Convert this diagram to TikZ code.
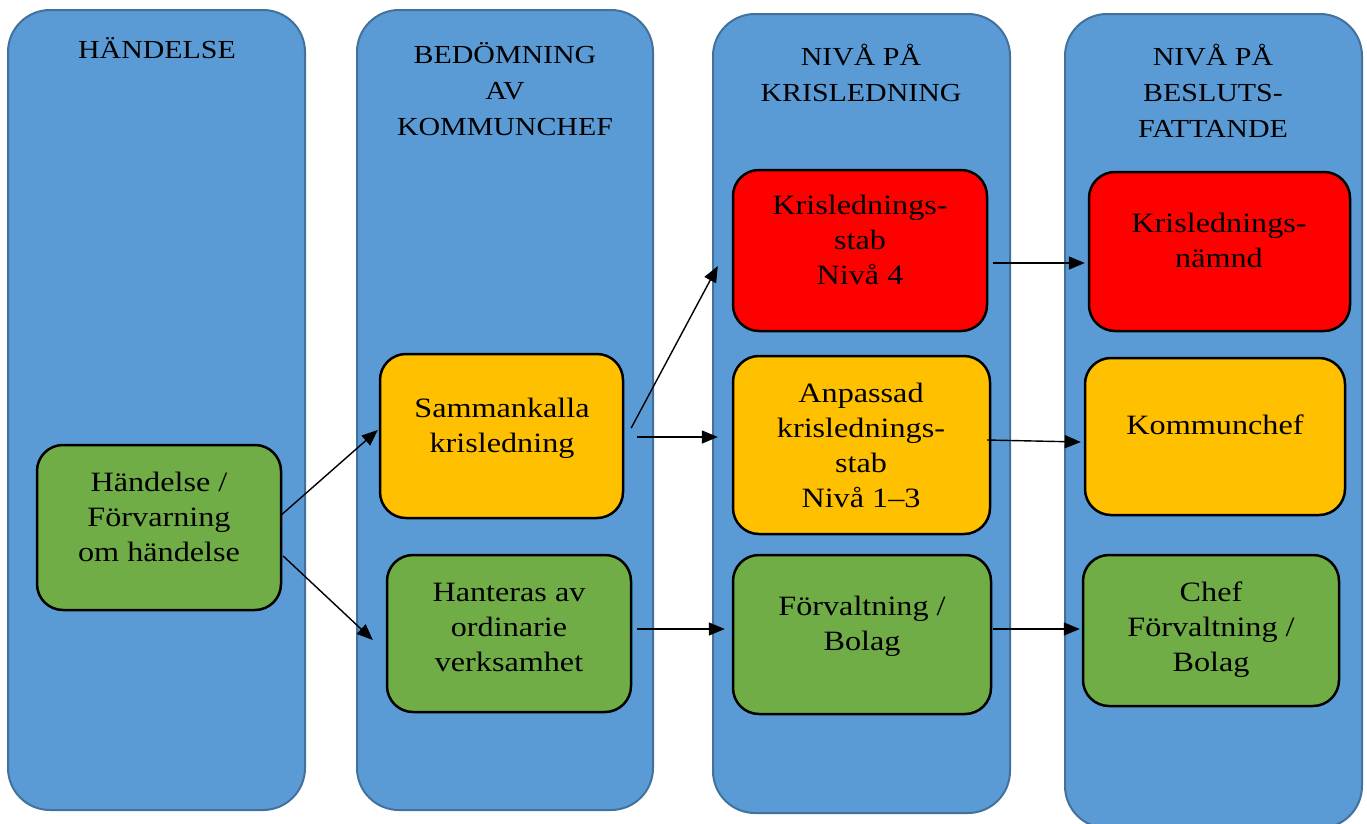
\documentclass[tikz,border=0pt]{standalone}
\usepackage{fontspec}
\setmainfont{Liberation Serif}[FakeStretch=1.15]
\usetikzlibrary{arrows.meta}
\definecolor{colblue}{HTML}{5B9BD5}
\definecolor{colborder}{HTML}{41719C}
\definecolor{boxred}{HTML}{FF0000}
\definecolor{boxorange}{HTML}{FFC000}
\definecolor{boxgreen}{HTML}{70AD47}
\tikzset{
  column/.style={draw=colborder, line width=2pt, fill=colblue, rounded corners=42pt},
  headtext/.style={align=center, font=\fontsize{26}{36}\selectfont, inner sep=0pt},
  item/.style={draw=black, line width=2.5pt, rounded corners=26pt, align=center,
    font=\fontsize{28}{35}\selectfont, inner sep=0pt},
  itemtext/.style={align=center, font=\fontsize{28}{35}\selectfont, inner sep=0pt},
  arr/.style={-{Triangle[length=16pt,width=13pt]}, line width=1.4pt, black},
}
\newcommand{\itembox}[6]{% name, x1, y1, x2, y2, fill
  \path[item, fill=#6] (#2,#3) rectangle (#4,#5);
  \coordinate (#1-c) at ({(#2+#4)/2},{(#3+#5)/2});
  \node[inner sep=0pt, minimum width={#4-#2}, minimum height={#5-#3}] (#1) at (#1-c) {};
}
\begin{document}
\begin{tikzpicture}[x=1pt,y=-1pt]
\useasboundingbox (0,0) rectangle (1367,823);
% columns
\path[column] (8,10) rectangle (305,810);
\path[column] (357,10) rectangle (653,810);
\path[column] (713,14) rectangle (1010,813);
\path[column] (1065,14) rectangle (1362,828);
% headers
\node[headtext] (h1) at (157,48) {HÄNDELSE};
\node[headtext] (h2) at (505,89) {BEDÖMNING\\AV\\KOMMUNCHEF};
\node[headtext] (h3) at (861,73) {NIVÅ PÅ\\KRISLEDNING};
\node[headtext] (h4) at (1213,91) {NIVÅ PÅ\\BESLUTS-\\FATTANDE};
% boxes
\itembox{hand}{37}{445}{281}{610}{boxgreen}
\node[itemtext] (t-hand) at (159,517) {Händelse /\\Förvarning\\om händelse};
\itembox{samm}{380}{354}{623}{518}{boxorange}
\node[itemtext] (t-samm) at (502,428) {Sammankalla\\krisledning};
\itembox{hant}{387}{555}{631}{712}{boxgreen}
\node[itemtext] (t-hant) at (509,627) {Hanteras av\\ordinarie\\verksamhet};
\itembox{kstab}{733}{170}{987}{331}{boxred}
\node[itemtext] (t-kstab) at (860,240) {Krislednings-\\stab\\Nivå 4};
\itembox{anp}{733}{356}{990}{534}{boxorange}
\node[itemtext] (t-anp) at (861,445.5) {Anpassad\\krislednings-\\stab\\Nivå 1–3};
\itembox{forv}{733}{555}{991}{714}{boxgreen}
\node[itemtext] (t-forv) at (862,626) {Förvaltning /\\Bolag};
\itembox{namnd}{1089}{172}{1350}{331}{boxred}
\node[itemtext] (t-namnd) at (1219,240.5) {Krislednings-\\nämnd};
\itembox{kchef}{1085}{358}{1345}{515}{boxorange}
\node[itemtext] (t-kchef) at (1215,425) {Kommunchef};
\itembox{chef}{1083}{555}{1339}{706}{boxgreen}
\node[itemtext] (t-chef) at (1211,629.5) {Chef\\Förvaltning /\\Bolag};
% arrows
\draw[arr] ([yshift=12.5pt]hand.east) -- ([xshift=-2pt,yshift=6pt]samm.west);
\draw[arr] ([xshift=2pt,yshift=-28.5pt]hand.east) -- ([xshift=-14pt,yshift=-6.5pt]hant.west);
\draw[arr] ([xshift=8pt,yshift=8pt]samm.east) -- ([xshift=-15pt,yshift=-15.5pt]kstab.west);
\draw[arr] ([xshift=14pt,yshift=-1pt]samm.east) -- ([xshift=-15pt,yshift=-1pt]samm.east -| anp.west);
\draw[arr] ([xshift=6pt,yshift=4.5pt]hant.east) -- ([xshift=-8pt,yshift=4.5pt]hant.east -| forv.west);
\draw[arr] ([xshift=6pt,yshift=-12.5pt]kstab.east) -- ([xshift=-4pt,yshift=-12.5pt]kstab.east -| namnd.west);
\draw[arr] ([xshift=-3pt,yshift=5pt]anp.east) -- ([xshift=-4pt,yshift=-5.5pt]kchef.west);
\draw[arr] ([xshift=2pt,yshift=5.5pt]forv.east) -- ([xshift=-3pt,yshift=1.5pt]chef.west);
\end{tikzpicture}
\end{document}
